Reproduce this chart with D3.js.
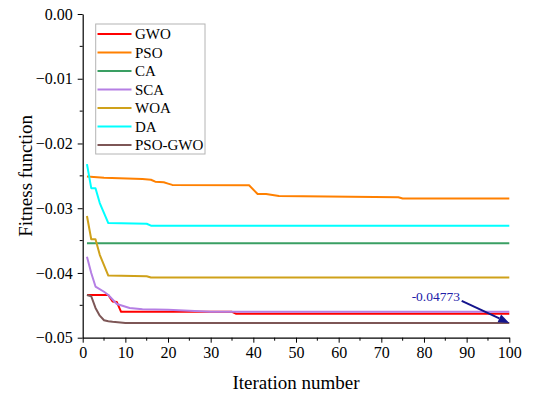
<!DOCTYPE html>
<html>
<head>
<meta charset="utf-8">
<script src="https://cdn.jsdelivr.net/npm/d3@7/dist/d3.min.js"></script>
<style>
  html, body { margin: 0; padding: 0; background: #fff; }
  svg { display: block; font-family: "Liberation Serif", "Times New Roman", serif; }
</style>
</head>
<body>
<svg id="chart" width="537" height="396"></svg>
<script>
// Convergence curves: iteration breakpoints and fitness values per algorithm
const seriesNames = ["GWO", "PSO", "CA", "SCA", "WOA", "DA", "PSO-GWO"];
const seriesColors = ["#ff0000", "#ff8000", "#3a9f63", "#b57fe4", "#cfa11a", "#00ffff", "#7d5656"];

const gwoIter = [1, 6, 7, 8, 9, 35, 36, 100];
const gwoVal = [-0.0434, -0.0434, -0.0444, -0.0445, -0.0460, -0.0460, -0.0463, -0.0463];

const psoIter = [1, 5, 14, 16, 17, 19, 20, 21, 39, 41, 43, 46, 74, 75, 100];
const psoVal = [-0.0251, -0.0253, -0.0255, -0.0256, -0.0259, -0.0260, -0.0262, -0.0264, -0.02646, -0.0278, -0.0278, -0.0281, -0.0283, -0.0285, -0.0285];

const caIter = [1, 100];
const caVal = [-0.0354, -0.0354];

const scaIter = [1, 2, 3, 5, 6, 7, 8, 11, 14, 20, 30, 100];
const scaVal = [-0.0375, -0.0400, -0.0421, -0.0429, -0.0434, -0.0441, -0.0448, -0.0454, -0.0456, -0.0457, -0.0460, -0.0460];

const woaIter = [1, 2, 3, 4, 6, 15, 16, 100];
const woaVal = [-0.0312, -0.0348, -0.0348, -0.0372, -0.0404, -0.0405, -0.0407, -0.0407];

const daIter = [1, 2, 3, 4, 6, 15, 16, 100];
const daVal = [-0.0232, -0.0269, -0.0269, -0.0292, -0.0323, -0.0324, -0.0327, -0.0327];

const hybIter = [1, 2, 3, 4, 5, 6, 7, 10, 100];
const hybVal = [-0.0434, -0.0436, -0.0454, -0.0466, -0.0473, -0.04745, -0.04755, -0.04773, -0.04773];

const xTicks = [0, 10, 20, 30, 40, 50, 60, 70, 80, 90, 100];
const yTicks = [0, -0.01, -0.02, -0.03, -0.04, -0.05];
const bestLabel = "-0.04773";

const iterSets = [gwoIter, psoIter, caIter, scaIter, woaIter, daIter, hybIter];
const valSets = [gwoVal, psoVal, caVal, scaVal, woaVal, daVal, hybVal];
const series = seriesNames.map((name, i) => ({
  name,
  color: seriesColors[i],
  points: iterSets[i].map((it, j) => ({ it, v: valSets[i][j] }))
}));

const svg = d3.select("#chart");
const plotLeft = 82.7, plotRight = 509.3, plotTop = 14, plotBottom = 337.7;

const x = d3.scaleLinear().domain([0, 100]).range([plotLeft, plotRight]);
const y = d3.scaleLinear().domain([-0.05, 0]).range([plotBottom, plotTop]);

// Minor ticks
const xMinor = d3.range(5, 100, 10);
const yMinor = d3.range(-0.045, 0, 0.01);

const axisG = svg.append("g");

const xAxis = d3.axisBottom(x).tickValues(xTicks).tickFormat(d3.format("d"))
  .tickSize(5).tickSizeOuter(0).tickPadding(4);
const gx = axisG.append("g").attr("transform", `translate(0,${plotBottom})`).call(xAxis);
gx.selectAll("text").attr("font-size", 16).attr("font-family", "Liberation Serif").attr("fill", "#000");
gx.append("g").selectAll("line").data(xMinor).join("line")
  .attr("x1", d => x(d)).attr("x2", d => x(d)).attr("y1", 0).attr("y2", 3)
  .attr("stroke", "#000");

const yAxis = d3.axisLeft(y).tickValues(yTicks).tickFormat(d3.format(".2f"))
  .tickSize(5).tickSizeOuter(0).tickPadding(5);
const gy = axisG.append("g").attr("transform", `translate(${plotLeft},0)`).call(yAxis);
gy.selectAll("text").attr("font-size", 16).attr("font-family", "Liberation Serif").attr("fill", "#000")
  .text(d => d === 0 ? "0.00" : d3.format(".2f")(d));
gy.append("g").selectAll("line").data(yMinor).join("line")
  .attr("x1", 0).attr("x2", -3).attr("y1", d => y(d)).attr("y2", d => y(d))
  .attr("stroke", "#000");
axisG.selectAll(".domain").attr("stroke", "#000").attr("stroke-width", 1.2);
axisG.selectAll(".tick line").attr("stroke", "#000");

// Axis titles
svg.append("text")
  .attr("x", (plotLeft + plotRight) / 2).attr("y", 389)
  .attr("text-anchor", "middle").attr("font-size", 19)
  .text("Iteration number");
svg.append("text")
  .attr("transform", `translate(32,${(plotTop + plotBottom) / 2}) rotate(-90)`)
  .attr("text-anchor", "middle").attr("font-size", 19)
  .text("Fitness function");

// Curves
const line = d3.line().x(d => x(d.it)).y(d => y(d.v));
svg.append("g").selectAll("path").data(series).join("path")
  .attr("d", d => line(d.points))
  .attr("fill", "none")
  .attr("stroke", d => d.color)
  .attr("stroke-width", 2)
  .attr("stroke-linejoin", "round");

// Legend
const lg = svg.append("g");
lg.append("rect").attr("x", 95.7).attr("y", 24).attr("width", 109.3).attr("height", 130)
  .attr("fill", "#fff").attr("stroke", "#b4b4b4").attr("stroke-width", 1);
const rows = lg.selectAll("g.row").data(series).join("g")
  .attr("class", "row")
  .attr("transform", (d, i) => `translate(0,${34 + i * 18.5})`);
rows.append("line").attr("x1", 97.5).attr("x2", 131.5).attr("y1", 0).attr("y2", 0)
  .attr("stroke", d => d.color).attr("stroke-width", 2);
rows.append("text").attr("x", 135).attr("y", 5).attr("font-size", 15)
  .text(d => d.name);

// Annotation of the best final value
const best = hybVal[hybVal.length - 1];
const ex = x(hybIter[hybIter.length - 1]), ey = y(best);
const sx = ex - 47.6, sy = ey - 22.2;
svg.append("text").attr("x", 460).attr("y", sy).attr("text-anchor", "end")
  .attr("font-size", 13.5).attr("fill", "#2020a8").text(bestLabel);
const ang = Math.atan2(ey - sy, ex - sx);
const headLen = 11, headW = 4.2;
const bx = ex - headLen * Math.cos(ang), by = ey - headLen * Math.sin(ang);
svg.append("line").attr("x1", sx).attr("y1", sy).attr("x2", bx).attr("y2", by)
  .attr("stroke", "#14148c").attr("stroke-width", 2);
svg.append("path")
  .attr("d", `M${ex},${ey}L${bx - headW * Math.sin(ang)},${by + headW * Math.cos(ang)}L${bx + headW * Math.sin(ang)},${by - headW * Math.cos(ang)}Z`)
  .attr("fill", "#14148c");
</script>
</body>
</html>
